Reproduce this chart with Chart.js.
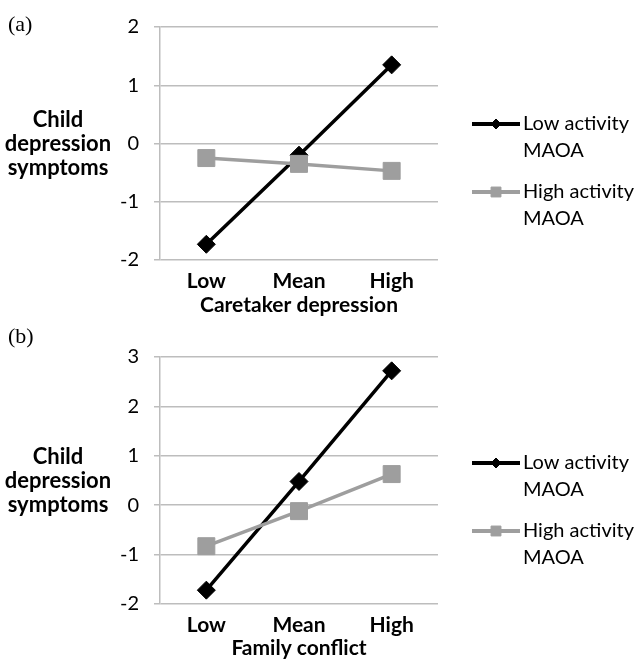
<!DOCTYPE html>
<html>
<head>
<meta charset="utf-8">
<script src="https://cdn.jsdelivr.net/npm/chart.js@4.4.1/dist/chart.umd.min.js"></script>
<style>
  body { margin: 0; background: #fff; }
  .panel { position: absolute; left: 0; width: 636px; }
  .etiqueta { position: absolute; left: 8px; font-family: "Liberation Serif", serif; font-size: 22px; line-height: 26px; color: #000; }
</style>
</head>
<body>
<div class="panel" style="top:0;height:320px"><canvas id="graficoA" width="636" height="320"></canvas></div>
<div class="panel" style="top:320px;height:343px"><canvas id="graficoB" width="636" height="343"></canvas></div>
<div class="etiqueta" style="top:11px">(a)</div>
<div class="etiqueta" style="top:323px">(b)</div>
<script>
// Datos
const categorias = ["Low", "Mean", "High"];
const bajaActividadA = [-1.73, -0.2, 1.35];
const altaActividadA = [-0.25, -0.35, -0.47];
const bajaActividadB = [-1.72, 0.48, 2.72];
const altaActividadB = [-0.83, -0.12, 0.63];
const rangoA = [-2, 2];
const rangoB = [-2, 3];
const tituloX = ["Caretaker depression", "Family conflict"];
const tituloY = ["Child", "depression", "symptoms"];
const nombreBaja = ["Low activity", "MAOA"];
const nombreAlta = ["High activity", "MAOA"];

const fuente = "Lato, 'Open Sans', sans-serif";
const gris = "#9e9e9e";
const gridGris = "#bdbdbd";

// Plugin para el título del eje Y en horizontal y la leyenda de dos líneas
const textoLateral = {
  id: "textoLateral",
  afterDraw(chart, args, opts) {
    const { ctx, chartArea } = chart;
    const medio = (chartArea.top + chartArea.bottom) / 2;
    ctx.save();
    ctx.fillStyle = "#000";
    ctx.font = "bold 22px " + fuente;
    ctx.textAlign = "center";
    ctx.textBaseline = "middle";
    tituloY.forEach((t, i) => ctx.fillText(t, 58, medio + (i - 1) * 24));

    chart.data.datasets.forEach((ds, i) => {
      const y = opts.leyendaY + i * 68;
      ctx.strokeStyle = ds.borderColor;
      ctx.lineWidth = 4;
      ctx.beginPath();
      ctx.moveTo(472, y);
      ctx.lineTo(520, y);
      ctx.stroke();
      ctx.fillStyle = ds.pointBackgroundColor;
      ctx.strokeStyle = ds.pointBorderColor;
      ctx.lineWidth = 1;
      Chart.helpers.drawPoint(ctx, { pointStyle: ds.pointStyle, radius: ds.radioLeyenda, rotation: 0, borderWidth: 1 }, 496, y);
      ctx.fillStyle = "#000";
      ctx.font = "20px " + fuente;
      ctx.textAlign = "left";
      ds.lineasLeyenda.forEach((t, j) => ctx.fillText(t, 523, y + j * 27));
    });
    ctx.restore();
  }
};

function crearGrafico(id, baja, alta, rango, titulo, arriba, altoX, leyendaY) {
  return new Chart(document.getElementById(id), {
    type: "line",
    data: {
      labels: categorias,
      datasets: [
        {
          label: nombreBaja.join(" "),
          lineasLeyenda: nombreBaja,
          data: baja,
          borderColor: "#000",
          borderWidth: 3.5,
          pointStyle: "rectRot",
          pointRadius: 9,
          pointBackgroundColor: "#000",
          pointBorderColor: "#000",
          pointBorderWidth: 1,
          radioLeyenda: 5,
          order: 1
        },
        {
          label: nombreAlta.join(" "),
          lineasLeyenda: nombreAlta,
          data: alta,
          borderColor: gris,
          borderWidth: 3.5,
          pointStyle: "rect",
          pointRadius: 12,
          pointBackgroundColor: gris,
          pointBorderColor: gris,
          pointBorderWidth: 1,
          radioLeyenda: 7,
          order: 0
        }
      ]
    },
    options: {
      responsive: false,
      animation: false,
      layout: { padding: { left: 0, right: 198, top: arriba, bottom: 0 } },
      plugins: {
        legend: { display: false },
        tooltip: { enabled: false },
        textoLateral: { leyendaY: leyendaY }
      },
      scales: {
        x: {
          offset: true,
          grid: { display: false, drawTicks: false },
          border: { display: false },
          ticks: { color: "#000", padding: 9, font: { family: fuente, size: 21, weight: "bold" } },
          title: {
            display: true,
            text: titulo,
            color: "#000",
            padding: { top: 0, bottom: 2 },
            font: { family: fuente, size: 21, weight: "bold" }
          },
          afterFit: s => { s.height = altoX; }
        },
        y: {
          min: rango[0],
          max: rango[1],
          ticks: { stepSize: 1, color: "#000", padding: 15, font: { family: fuente, size: 20 } },
          grid: { color: gridGris, lineWidth: 1.5, drawTicks: true, tickLength: 6 },
          border: { color: gridGris, width: 1.5 },
          afterFit: s => { s.width = 160; }
        }
      }
    },
    plugins: [textoLateral]
  });
}

crearGrafico("graficoA", bajaActividadA, altaActividadA, rangoA, tituloX[0], 19, 60, 124);
crearGrafico("graficoB", bajaActividadB, altaActividadB, rangoB, tituloX[1], 37, 59, 143);
</script>
</body>
</html>
